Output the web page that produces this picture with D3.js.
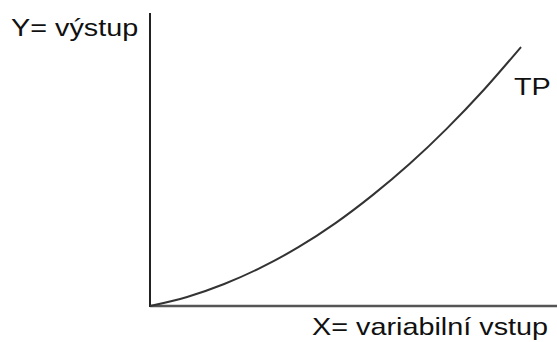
<!DOCTYPE html>
<html>
<head>
<meta charset="utf-8">
<script src="https://cdn.jsdelivr.net/npm/d3@7"></script>
<style>
  html, body { margin: 0; padding: 0; background: #fff; }
  svg { display: block; }
  text { font-family: "Liberation Sans", Arial, sans-serif; fill: #111; }
</style>
</head>
<body>
<svg id="chart" width="557" height="342"></svg>
<script>
// Total product curve: output as a function of the variable input
const inputLevels = [0, 1, 2, 3, 4, 5, 6, 7, 8, 9, 10];
const outputLevels = [0, 0.35, 0.85, 1.49, 2.27, 3.20, 4.28, 5.49, 6.85, 8.35, 10.0];
const yAxisLabel = "Y= výstup";
const xAxisLabel = "X= variabilní vstup";
const curveLabel = "TP";

const svg = d3.select("#chart");

const x = d3.scaleLinear().domain([0, 10]).range([150, 521]);
const y = d3.scaleLinear().domain([0, 10]).range([306, 47]);

// Axes (no ticks)
svg.append("line")
  .attr("x1", x(0)).attr("x2", 557)
  .attr("y1", y(0)).attr("y2", y(0))
  .attr("stroke", "#555").attr("stroke-width", 2.5);

svg.append("line")
  .attr("x1", x(0)).attr("x2", x(0))
  .attr("y1", 13).attr("y2", y(0) + 1)
  .attr("stroke", "#222").attr("stroke-width", 2);

// Curve
const line = d3.line()
  .x((d, i) => x(inputLevels[i]))
  .y(d => y(d))
  .curve(d3.curveMonotoneX);

svg.append("path")
  .datum(outputLevels)
  .attr("d", line)
  .attr("fill", "none")
  .attr("stroke", "#333")
  .attr("stroke-width", 2);

// Labels, slightly widened
function label(txt, px, py) {
  svg.append("text")
    .attr("transform", `translate(${px},${py}) scale(1.2,1)`)
    .attr("font-size", 24)
    .text(txt);
}
label(yAxisLabel, 11, 36);
label(xAxisLabel, 312, 335);
label(curveLabel, 514, 95);
</script>
</body>
</html>
